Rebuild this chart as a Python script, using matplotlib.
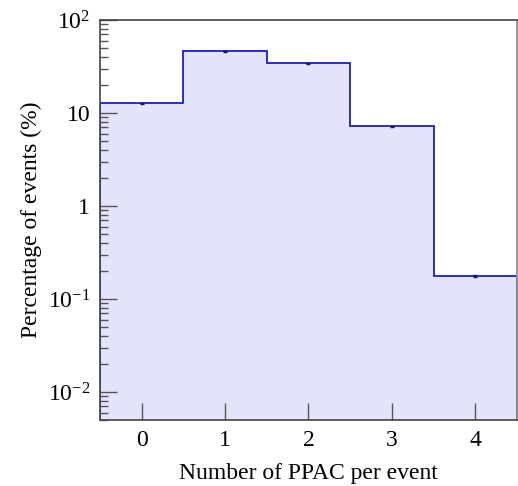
import matplotlib
matplotlib.use("Agg")
import matplotlib.pyplot as plt
import numpy as np

# percentage of events vs number of PPAC fired
n_ppac = [0, 1, 2, 3, 4]
percent = [12.7, 46.0, 34.3, 7.2, 0.175]
percent_err = [0.15, 0.4, 0.35, 0.08, 0.004]

ytick_vals = [1e2, 10, 1, 1e-1, 1e-2]
ytick_labels = ["$10^{2}$", "10", "1", "$10^{-1}$", "$10^{-2}$"]

plt.rcParams["font.family"] = ["Liberation Serif", "DejaVu Serif"]
plt.rcParams["mathtext.fontset"] = "custom"
plt.rcParams["mathtext.rm"] = "Liberation Serif"
plt.rcParams["mathtext.it"] = "Liberation Serif:italic"

fig = plt.figure(figsize=(5.18, 4.86), dpi=100)
ax = fig.add_axes([0.193, 0.136, 0.805, 0.823])

edges = np.arange(len(n_ppac) + 1) - 0.5
ymin, ymax = 5e-3, 1e2

ax.stairs(percent, edges, baseline=ymin, fill=True, color="#e3e3fa")
ax.stairs(percent, edges, baseline=ymin, color="#1c1cc8", linewidth=1.3)
ax.errorbar(n_ppac, percent, yerr=percent_err, fmt="none", ecolor="#1a1a50",
            elinewidth=1.2, capsize=1.5, capthick=1.0)

ax.set_yscale("log")
ax.set_ylim(ymin, ymax)
ax.set_xlim(-0.5, 4.5)

ax.set_yticks(ytick_vals)
ax.set_yticklabels(ytick_labels)
ax.set_xticks(n_ppac)

ax.tick_params(axis="both", which="both", direction="in", color="#555555",
               labelsize=17, pad=7)
ax.tick_params(axis="y", which="major", length=12, width=1.0)
ax.tick_params(axis="y", which="minor", length=6, width=1.0)
ax.tick_params(axis="x", which="major", length=12, width=1.0)
ax.tick_params(axis="x", which="minor", bottom=False)

for side in ["top", "left", "bottom", "right"]:
    ax.spines[side].set_color("#444444")
    ax.spines[side].set_linewidth(1.2)
ax.spines["right"].set_color("#888888")

ax.set_xlabel("Number of PPAC per event", fontsize=17, labelpad=9)
ax.set_ylabel("Percentage of events (%)", fontsize=17, labelpad=4)

fig.savefig("out.png", dpi=100)
